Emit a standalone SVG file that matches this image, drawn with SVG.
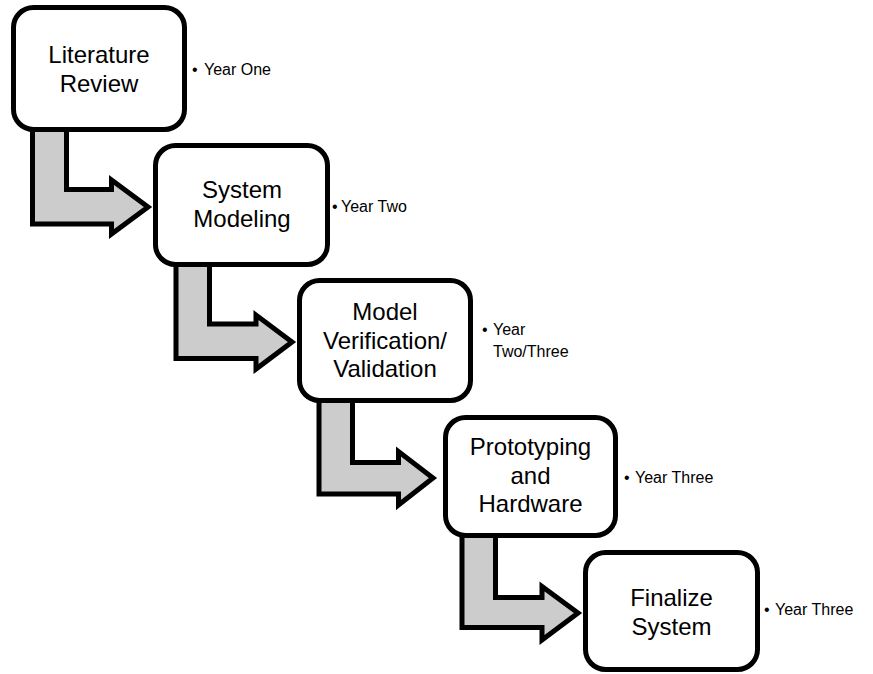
<svg xmlns="http://www.w3.org/2000/svg" width="873" height="674" viewBox="0 0 873 674">
  <style>
    .step { fill: #ffffff; stroke: #000000; stroke-width: 5; }
    .flow { fill: #cccccc; stroke: #000000; stroke-width: 5; stroke-linejoin: miter; stroke-miterlimit: 10; }
    .label { font-family: "Liberation Sans", Arial, sans-serif; font-size: 24px; fill: #000000; text-anchor: middle; }
    .note { font-family: "Liberation Sans", Arial, sans-serif; font-size: 16px; fill: #000000; }
  </style>
  <rect width="873" height="674" fill="#ffffff"/>

  <!-- bent block arrows between consecutive stages -->
  <g id="connectors">
    <polygon class="flow" points="32.5,128 66.5,128 66.5,189.5 111.5,189.5 111.5,180 148,207 111.5,234 111.5,224 32.5,224"/>
    <polygon class="flow" points="176,263 209.5,263 209.5,324 256,324 256,315 292,342 256,369 256,358.5 176,358.5"/>
    <polygon class="flow" points="319,399 352.5,399 352.5,462.5 398.5,462.5 398.5,451.5 433,478 398.5,505 398.5,494 319,494"/>
    <polygon class="flow" points="462,534 495.5,534 495.5,597.5 542,597.5 542,586.5 578,613 542,640 542,627.5 462,627.5"/>
  </g>

  <g id="literature-review">
    <rect class="step" x="13.5" y="7.5" width="171" height="122" rx="20"/>
    <text class="label" x="99" y="63">Literature</text>
    <text class="label" x="99" y="92">Review</text>
    <text class="note" y="75"><tspan x="192">•</tspan><tspan x="204">Year One</tspan></text>
  </g>

  <g id="system-modeling">
    <rect class="step" x="155.5" y="145.5" width="172" height="119" rx="20"/>
    <text class="label" x="242" y="198">System</text>
    <text class="label" x="242" y="226.5">Modeling</text>
    <text class="note" y="212"><tspan x="332">•</tspan><tspan x="341">Year Two</tspan></text>
  </g>

  <g id="model-verification">
    <rect class="step" x="299.5" y="280.5" width="171" height="120" rx="20"/>
    <text class="label" x="385" y="320">Model</text>
    <text class="label" x="385" y="348.5">Verification/</text>
    <text class="label" x="385" y="377">Validation</text>
    <text class="note" y="335"><tspan x="482">•</tspan><tspan x="493">Year</tspan></text>
    <text class="note" x="493" y="357">Two/Three</text>
  </g>

  <g id="prototyping-hardware">
    <rect class="step" x="445.5" y="417.5" width="170" height="118" rx="20"/>
    <text class="label" x="530.5" y="455">Prototyping</text>
    <text class="label" x="530.5" y="483.5">and</text>
    <text class="label" x="530.5" y="512">Hardware</text>
    <text class="note" y="483"><tspan x="624">•</tspan><tspan x="635">Year Three</tspan></text>
  </g>

  <g id="finalize-system">
    <rect class="step" x="585.5" y="552.5" width="172" height="117" rx="20"/>
    <text class="label" x="671.5" y="606">Finalize</text>
    <text class="label" x="671.5" y="634.5">System</text>
    <text class="note" y="615"><tspan x="764">•</tspan><tspan x="775">Year Three</tspan></text>
  </g>
</svg>
